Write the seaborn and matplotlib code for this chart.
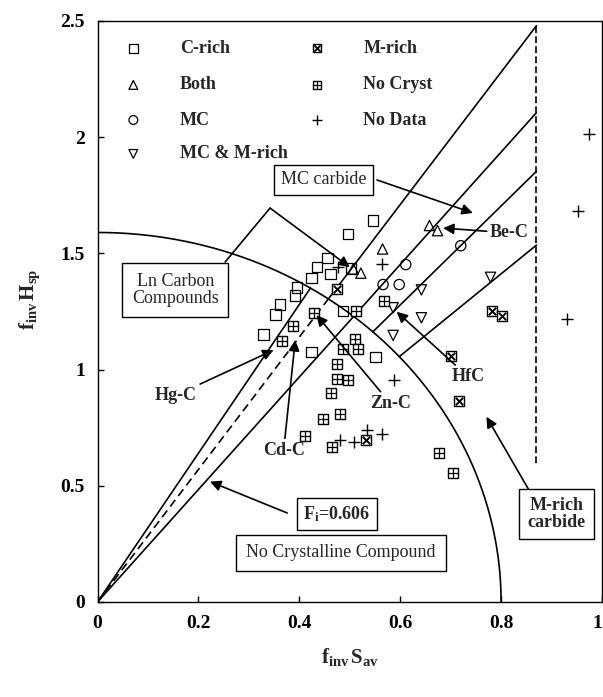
import numpy as np
import pandas as pd
import matplotlib
matplotlib.use('Agg')
import matplotlib.pyplot as plt
import seaborn as sns

# ---- data ----
c_rich_x = [0.329, 0.353, 0.362, 0.391, 0.395, 0.424, 0.435, 0.456, 0.462, 0.496, 0.546, 0.424, 0.551, 0.487, 0.503]
c_rich_y = [1.151, 1.237, 1.280, 1.319, 1.353, 1.393, 1.440, 1.480, 1.411, 1.583, 1.641, 1.077, 1.055, 1.252, 1.435]

both_x = [0.507, 0.522, 0.565, 0.658, 0.674]
both_y = [1.433, 1.415, 1.519, 1.620, 1.598]

mc_x = [0.611, 0.566, 0.598, 0.720]
mc_y = [1.452, 1.366, 1.366, 1.533]

mc_mrich_x = [0.779, 0.642, 0.586, 0.642, 0.586]
mc_mrich_y = [1.397, 1.343, 1.266, 1.223, 1.147]

m_rich_x = [0.781, 0.802, 0.700, 0.716, 0.475, 0.533]
m_rich_y = [1.254, 1.229, 1.057, 0.863, 1.348, 0.696]

no_cryst_x = [0.429, 0.388, 0.365, 0.513, 0.568, 0.511, 0.516, 0.486, 0.474, 0.474,
              0.497, 0.462, 0.480, 0.447, 0.411, 0.464, 0.676, 0.705]
no_cryst_y = [1.244, 1.186, 1.125, 1.254, 1.297, 1.130, 1.087, 1.087, 1.025, 0.961,
              0.954, 0.899, 0.808, 0.789, 0.713, 0.667, 0.639, 0.553]

no_data_x = [0.563, 0.476, 0.588, 0.931, 0.974, 0.953, 0.480, 0.509, 0.535, 0.563]
no_data_y = [1.455, 1.440, 0.957, 1.219, 2.013, 1.684, 0.699, 0.689, 0.739, 0.722]

categories = ['C-rich', 'Both', 'MC', 'MC & M-rich', 'M-rich', 'No Cryst', 'No Data']

# boundary curves
arc_a, arc_b = 0.80, 1.59          # F_i = 0.606 curve
origin_slopes = [3.2, 2.42]         # solid rays from the origin
dashed_slope = 2.85                 # dashed to the curve, solid beyond
arc_slopes = [2.13, 1.765]          # rays starting on the curve
x_cut = 0.87                        # dashed vertical limit

rows = []
for name, xs, ys in [('C-rich', c_rich_x, c_rich_y), ('Both', both_x, both_y),
                     ('MC', mc_x, mc_y), ('MC & M-rich', mc_mrich_x, mc_mrich_y),
                     ('M-rich', m_rich_x, m_rich_y), ('No Cryst', no_cryst_x, no_cryst_y),
                     ('No Data', no_data_x, no_data_y)]:
    for x, y in zip(xs, ys):
        rows.append({'cat': name, 'x': x, 'y': y})
df = pd.DataFrame(rows)

sns.set_theme(style='ticks')
plt.rcParams['font.family'] = ['Liberation Serif', 'DejaVu Serif']
plt.rcParams['mathtext.fontset'] = 'custom'
plt.rcParams['mathtext.rm'] = 'Liberation Serif'
plt.rcParams['mathtext.bf'] = 'Liberation Serif:bold'
plt.rcParams['mathtext.it'] = 'Liberation Serif:italic'

fig = plt.figure(figsize=(6.03, 6.97), dpi=100)
ax = fig.add_axes([97.5 / 603, 95 / 697, 504.5 / 603, 581 / 697])

lw = 1.2
k = 'black'


def arc_hit(m):
    xi = 1.0 / np.sqrt(1 / arc_a ** 2 + m ** 2 / arc_b ** 2)
    return xi, m * xi


# curve
t = np.linspace(0, np.pi / 2, 200)
ax.plot(arc_a * np.cos(t), arc_b * np.sin(t), color=k, lw=lw)

# rays from origin
xi, yi = arc_hit(origin_slopes[0])
ax.plot([0, xi], [0, yi], color=k, lw=lw)
ax.plot([0, x_cut], [0, origin_slopes[1] * x_cut], color=k, lw=lw)
xi, yi = arc_hit(dashed_slope)
ax.plot([0, xi], [0, yi], color=k, lw=lw, ls=(0, (5, 3)))
ax.plot([xi, x_cut], [yi, dashed_slope * x_cut], color=k, lw=lw)
for m in arc_slopes:
    xi, yi = arc_hit(m)
    ax.plot([xi, x_cut], [yi, m * x_cut], color=k, lw=lw)
ax.plot([x_cut, x_cut], [0.60, dashed_slope * x_cut], color=k, lw=lw, ls=(0, (4, 2)))

# points
ms = 55
open_style = dict(facecolor='none', edgecolor=k, color=k, linewidth=0.9, s=ms, zorder=3, legend=False)
sns.scatterplot(data=df[df.cat == 'C-rich'], x='x', y='y', marker='s', ax=ax, **open_style)
sns.scatterplot(data=df[df.cat == 'Both'], x='x', y='y', marker='^', ax=ax, **open_style)
sns.scatterplot(data=df[df.cat == 'MC'], x='x', y='y', marker='o', ax=ax, **open_style)
sns.scatterplot(data=df[df.cat == 'MC & M-rich'], x='x', y='y', marker='v', ax=ax, **open_style)
box_style = dict(facecolor='white', edgecolor=k, color=k, linewidth=1.0, s=ms, zorder=3, legend=False)
sns.scatterplot(data=df[df.cat == 'M-rich'], x='x', y='y', marker='s', ax=ax, **box_style)
sns.scatterplot(data=df[df.cat == 'M-rich'], x='x', y='y', marker='x', ax=ax, color=k,
                linewidth=1.4, s=28, zorder=4, legend=False)
sns.scatterplot(data=df[df.cat == 'No Cryst'], x='x', y='y', marker='s', ax=ax, **box_style)
sns.scatterplot(data=df[df.cat == 'No Cryst'], x='x', y='y', marker='+', ax=ax, color=k,
                linewidth=0.9, s=ms, zorder=4, legend=False)
sns.scatterplot(data=df[df.cat == 'No Data'], x='x', y='y', marker='+', ax=ax, color=k,
                linewidth=1.0, s=ms * 1.3, zorder=3, legend=False)

# hand-placed legend (no frame)
leg_rows = [2.383, 2.225, 2.074, 1.928]
leg_font = dict(fontsize=13, fontweight='bold', va='center', ha='left')
for i, (mk, lab) in enumerate([('s', 'C-rich'), ('^', 'Both'), ('o', 'MC'), ('v', 'MC & M-rich')]):
    ax.scatter([0.071], [leg_rows[i]], marker=mk, s=40, facecolor='none', edgecolor=k, lw=0.9)
    ax.text(0.163, leg_rows[i], lab, **leg_font)
ax.scatter([0.435], [leg_rows[0]], marker='s', s=40, facecolor='white', edgecolor=k, lw=1.0)
ax.scatter([0.435], [leg_rows[0]], marker='x', s=20, color=k, lw=1.3)
ax.text(0.527, leg_rows[0], 'M-rich', **leg_font)
ax.scatter([0.435], [leg_rows[1]], marker='s', s=40, facecolor='white', edgecolor=k, lw=1.0)
ax.scatter([0.435], [leg_rows[1]], marker='+', s=40, color=k, lw=0.9)
ax.text(0.527, leg_rows[1], 'No Cryst', **leg_font)
ax.scatter([0.435], [leg_rows[2]], marker='+', s=60, color=k, lw=1.0)
ax.text(0.527, leg_rows[2], 'No Data', **leg_font)

# annotations
arrow = dict(arrowstyle='-|>', color=k, lw=1.2, mutation_scale=16, shrinkA=0, shrinkB=0)
box = dict(boxstyle='square,pad=0.35', facecolor='white', edgecolor=k, lw=1.0)

ax.annotate('', xy=(0.744, 1.674), xytext=(0.554, 1.816), arrowprops=arrow)
ax.text(0.448, 1.816, 'MC carbide', fontsize=13, ha='center', va='center', bbox=box, zorder=5)

ax.plot([0.253, 0.342], [1.463, 1.695], color=k, lw=lw)
ax.annotate('', xy=(0.500, 1.441), xytext=(0.342, 1.695), arrowprops=arrow)
ax.text(0.154, 1.343, 'Ln Carbon\nCompounds', fontsize=13, ha='center', va='center',
        linespacing=1.0, bbox=dict(boxstyle='square,pad=0.55', facecolor='white', edgecolor=k, lw=1.0),
        zorder=5)

ax.annotate('Be-C', xy=(0.685, 1.609), xytext=(0.778, 1.588), arrowprops=arrow,
            fontsize=13, fontweight='bold', ha='left', va='center')
ax.annotate('Hg-C', xy=(0.349, 1.084), xytext=(0.197, 0.926), arrowprops=arrow,
            fontsize=13, fontweight='bold', ha='right', va='top')
ax.annotate('Cd-C', xy=(0.392, 1.127), xytext=(0.369, 0.690), arrowprops=arrow,
            fontsize=13, fontweight='bold', ha='center', va='top')
ax.annotate('Zn-C', xy=(0.434, 1.235), xytext=(0.540, 0.891), arrowprops=arrow,
            fontsize=13, fontweight='bold', ha='left', va='top')
ax.annotate('HfC', xy=(0.593, 1.249), xytext=(0.702, 0.969), arrowprops=arrow,
            fontsize=13, fontweight='bold', ha='left', va='center')
ax.annotate('', xy=(0.771, 0.797), xytext=(0.857, 0.475), arrowprops=arrow)
ax.text(0.910, 0.379, 'M-rich\ncarbide', fontsize=13, fontweight='bold', ha='center', va='center',
        linespacing=1.0, bbox=dict(boxstyle='square,pad=0.45', facecolor='white', edgecolor=k, lw=1.0),
        zorder=5)
ax.annotate('', xy=(0.223, 0.518), xytext=(0.376, 0.383), arrowprops=arrow)
ax.text(0.475, 0.379, r'$\mathbf{F_{i}}$=0.606', fontsize=13, fontweight='bold', ha='center',
        va='center', bbox=box, zorder=5)
ax.text(0.483, 0.211, 'No Crystalline Compound', fontsize=13, ha='center', va='center',
        bbox=dict(boxstyle='square,pad=0.55', facecolor='white', edgecolor=k, lw=1.0), zorder=5)

# axes
ax.set_xlim(0, 1)
ax.set_ylim(0, 2.5)
ax.set_xticks([0, 0.2, 0.4, 0.6, 0.8, 1])
ax.set_xticklabels(['0', '0.2', '0.4', '0.6', '0.8', '1'])
ax.set_yticks([0, 0.5, 1, 1.5, 2, 2.5])
ax.set_yticklabels(['0', '0.5', '1', '1.5', '2', '2.5'])
ax.tick_params(direction='in', length=4, width=1, labelsize=14, pad=9, colors=k)
for lab in ax.get_xticklabels() + ax.get_yticklabels():
    lab.set_fontweight('bold')
ax.get_xticklabels()[-1].set_horizontalalignment('right')
for sp in ax.spines.values():
    sp.set_visible(True)
    sp.set_color(k)
    sp.set_linewidth(1.0)

ax.set_xlabel(r'$\mathbf{f_{inv}\,S_{av}}$', fontsize=15)
ax.set_ylabel(r'$\mathbf{f_{inv}\,H_{sp}}$', fontsize=15)
ax.xaxis.set_label_coords(0.5, -0.075)
ax.yaxis.set_label_coords(-0.11, 0.52)

fig.savefig('out.png', dpi=100, facecolor='white')
